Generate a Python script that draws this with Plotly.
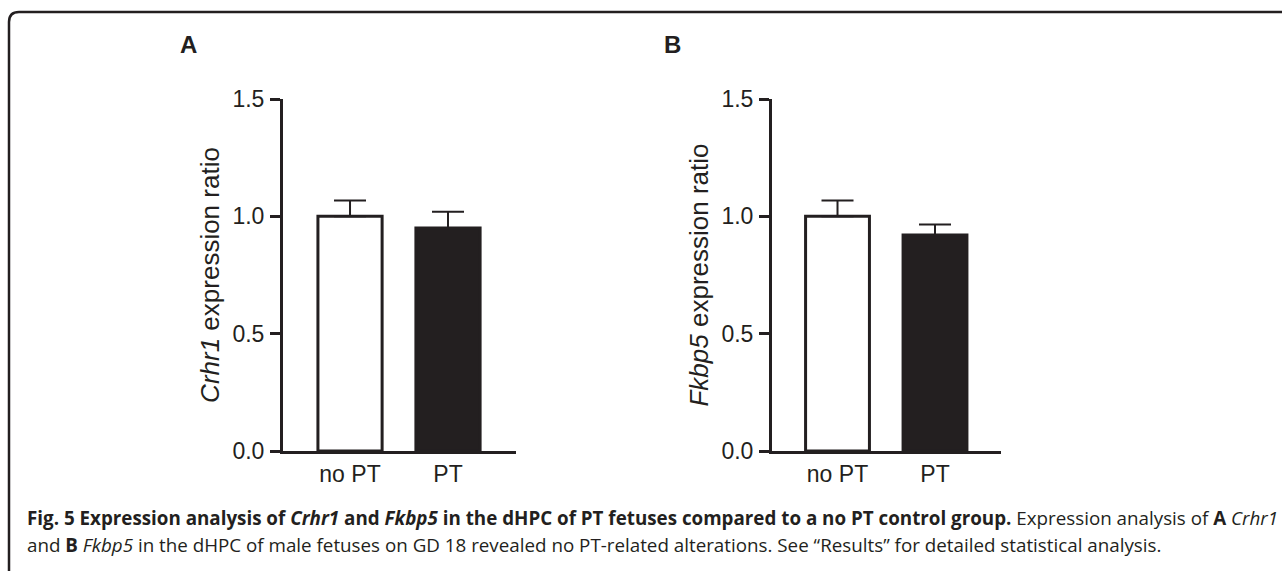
import plotly.graph_objects as go

W, H = 1282, 571

categories = ["no PT", "PT"]
crhr1_mean = [1.00, 0.95]
crhr1_sem = [0.067, 0.07]
fkbp5_mean = [1.00, 0.92]
fkbp5_sem = [0.067, 0.045]
y_ticks = [0.0, 0.5, 1.0, 1.5]
y_ticklabels = ["0.0", "0.5", "1.0", "1.5"]

INK = "#231f20"
SANS = "Liberation Sans, Arial, sans-serif"
TICKFONT = dict(family=SANS, size=23, color=INK)
TITLEFONT = dict(family=SANS, size=26, color=INK)

def px_x(p):
    return p / W

def px_y(p):
    return 1 - p / H

fig = go.Figure()

for i, (means, sems) in enumerate([(crhr1_mean, crhr1_sem), (fkbp5_mean, fkbp5_sem)]):
    xa = "x" if i == 0 else "x2"
    ya = "y" if i == 0 else "y2"
    fig.add_trace(go.Bar(
        x=categories, y=means, xaxis=xa, yaxis=ya,
        width=0.655,
        marker=dict(color=["white", INK], line=dict(color=INK, width=3)),
        error_y=dict(type="data", symmetric=False, array=sems,
                     arrayminus=[0] * len(sems), color=INK, thickness=2, width=16),
        showlegend=False, hoverinfo="skip",
    ))

yd = [px_y(451), px_y(99)]
common_y = dict(range=[0, 1.5], tickvals=y_ticks, ticktext=y_ticklabels,
                showline=True, linecolor=INK, linewidth=3, ticks="outside",
                ticklen=10, tickwidth=3, tickcolor=INK, showgrid=False,
                zeroline=False, tickfont=TICKFONT, fixedrange=True, domain=yd,
                ticklabelstandoff=1, automargin=False)
common_x = dict(showline=True, linecolor=INK, linewidth=3, ticks="",
                showgrid=False, zeroline=False, tickfont=TICKFONT,
                type="category", fixedrange=True, automargin=False)

fig.update_layout(
    width=W, height=H, margin=dict(l=0, r=0, t=0, b=0, pad=0, autoexpand=False),
    paper_bgcolor="white", plot_bgcolor="white",
    xaxis=dict(**common_x, domain=[px_x(283), px_x(516)], range=[-0.684, 1.694],
               anchor="y"),
    yaxis=dict(**common_y, anchor="x",
               title=dict(text="<i>Crhr1</i> expression ratio", font=TITLEFONT, standoff=6)),
    xaxis2=dict(**common_x, domain=[px_x(772), px_x(1001)], range=[-0.672, 1.677],
                anchor="y2"),
    yaxis2=dict(**common_y, anchor="x2",
                title=dict(text="<i>Fkbp5</i> expression ratio", font=TITLEFONT, standoff=6)),
)

# panel letters
for letter, xp in [("A", 188), ("B", 672)]:
    fig.add_annotation(x=px_x(xp), y=px_y(45), xref="paper", yref="paper",
                       xanchor="center", yanchor="middle",
                       text=f"<b>{letter}</b>", showarrow=False,
                       font=dict(family=SANS, size=24, color=INK))

# caption
CAPFONT = dict(family="Open Sans, sans-serif", size=18.8, color=INK)
line1 = ("<b>Fig. 5 Expression analysis of <i>Crhr1</i> and <i>Fkbp5</i> in the dHPC of PT fetuses "
         "compared to a no PT control group.</b> Expression analysis of <b>A</b> <i>Crhr1</i>")
line2 = ("and <b>B</b> <i>Fkbp5</i> in the dHPC of male fetuses on GD 18 revealed no PT-related "
         "alterations. See \u201cResults\u201d for detailed statistical analysis.")
for txt, yp in [(line1, 518), (line2, 545)]:
    fig.add_annotation(x=px_x(25), y=px_y(yp), xref="paper", yref="paper",
                       xanchor="left", yanchor="middle", text=txt, showarrow=False,
                       font=CAPFONT, align="left")

# frame (open on right and bottom)
x0, y0, r = px_x(9), px_y(12), 10
fig.add_shape(type="path", xref="paper", yref="paper",
              path=(f"M {x0} 0 L {x0} {px_y(12 + r)} "
                    f"Q {x0} {y0} {px_x(9 + r)} {y0} L 1 {y0}"),
              line=dict(color=INK, width=2.5))

fig.write_html("out.html", config={"displayModeBar": False},
               post_script="document.body.style.margin='0';document.body.style.overflow='hidden';")
